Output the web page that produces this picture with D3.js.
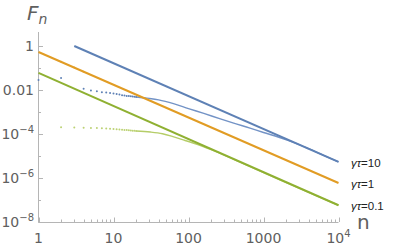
<!DOCTYPE html>
<html>
<head>
<meta charset="utf-8">
<script src="https://cdn.jsdelivr.net/npm/d3@7"></script>
<style>
  body { margin: 0; background: #fff; }
  svg { display: block; }
</style>
</head>
<body>
<div id="chart"></div>
<script>
// solid asymptotic lines: [n, F] end points
const blueLine = [[3, 1.05], [1e4, 5.5e-6]]
const orangeLine = [[1, 0.56], [1e4, 6.0e-7]]
const greenLine = [[1, 0.063], [1e4, 5.8e-8]]

// exact values, sparse integer n (drawn as dots)
const blueDots = [[1, 0.030], [2, 0.037], [4, 0.0117], [5, 0.0098], [6, 0.0091], [7, 0.0083],
    [8, 0.0079], [9, 0.0076], [10, 0.0071], [11, 0.0068], [12, 0.0065], [13, 0.0060],
    [14, 0.0059], [15, 0.0056], [16, 0.0055], [17, 0.0054], [18, 0.0052], [19, 0.0051], [20, 0.0050]]
const orangeDots = [[2, 0.20], [3, 0.11], [4, 0.071]]
const greenDots = [[2, 2.1e-4], [3, 2.04e-4], [4, 2.0e-4], [5, 1.95e-4], [6, 1.9e-4], [7, 1.86e-4],
    [8, 1.82e-4], [9, 1.78e-4], [10, 1.74e-4], [11, 1.70e-4], [12, 1.66e-4], [13, 1.62e-4],
    [14, 1.58e-4], [15, 1.55e-4], [16, 1.51e-4], [17, 1.48e-4], [18, 1.45e-4], [19, 1.43e-4], [20, 1.41e-4]]

// exact values, dense part (n > 20)
const blueCurve = [[20, 0.0050], [30, 0.0043], [40, 0.0037], [63, 0.0025], [100, 0.00148],
    [160, 8.9e-4], [266, 5.0e-4], [400, 3.2e-4], [661, 1.9e-4], [1000, 1.2e-4],
    [1600, 7.3e-5], [2500, 4.3e-5], [4000, 2.2e-5], [6300, 1.1e-5], [10000, 5.5e-6]]
const greenCurve = [[20, 1.41e-4], [31, 1.26e-4], [45, 1.05e-4], [62, 7.8e-5], [90, 5.2e-5],
    [130, 3.5e-5], [200, 2.0e-5], [400, 7.2e-6], [1000, 1.8e-6], [3000, 3.4e-7], [10000, 5.8e-8]]

const xTicks = [1, 10, 100, 1000, 1e4]
const xTickLabels = ["1", "10", "100", "1000", "10|4"]
const yTicks = [1, 1e-2, 1e-4, 1e-6, 1e-8]
const yTickLabels = ["1", "0.01", "10|-4", "10|-6", "10|-8"]
const legendLabels = ["γτ=10", "γτ=1", "γτ=0.1"]

const width = 415, height = 248
const colors = ["#5e81b5", "#e19c24", "#8fb032"]

const svg = d3.select("#chart").append("svg")
    .attr("width", width)
    .attr("height", height)

const x = d3.scaleLog().domain([1, 1e4]).range([38.5, 338.5])
const y = d3.scaleLog().domain([1e-8, Math.pow(10, 0.66)]).range([222, 32])

const axisColor = "#b5b5b5"
const labelColor = "#606060"

// axes lines
svg.append("line")
    .attr("x1", x(1)).attr("x2", x(1e4))
    .attr("y1", 222.5).attr("y2", 222.5)
    .attr("stroke", axisColor)
svg.append("line")
    .attr("x1", 38.5).attr("x2", 38.5)
    .attr("y1", 32).attr("y2", 222.5)
    .attr("stroke", axisColor)

// x ticks, major and minor, pointing inward
let xMinor = []
for (let d = 1; d < 1e4; d *= 10) {
    for (let k = 2; k <= 9; k++) xMinor.push(d * k)
}
svg.selectAll(".xminor").data(xMinor).enter().append("line")
    .attr("x1", d => Math.round(x(d)) + 0.5).attr("x2", d => Math.round(x(d)) + 0.5)
    .attr("y1", 222).attr("y2", 219.5)
    .attr("stroke", axisColor)
svg.selectAll(".xmajor").data(xTicks).enter().append("line")
    .attr("x1", d => Math.round(x(d)) + 0.5).attr("x2", d => Math.round(x(d)) + 0.5)
    .attr("y1", 222).attr("y2", 217.5)
    .attr("stroke", axisColor)

// y ticks
const yMinor = [1e-1, 1e-3, 1e-5, 1e-7]
svg.selectAll(".yminor").data(yMinor).enter().append("line")
    .attr("x1", 38.5).attr("x2", 41)
    .attr("y1", d => Math.round(y(d)) + 0.5).attr("y2", d => Math.round(y(d)) + 0.5)
    .attr("stroke", axisColor)
svg.selectAll(".ymajor").data(yTicks).enter().append("line")
    .attr("x1", 38.5).attr("x2", 43)
    .attr("y1", d => Math.round(y(d)) + 0.5).attr("y2", d => Math.round(y(d)) + 0.5)
    .attr("stroke", axisColor)

// tick label with optional superscript, "base|exp"
function tickText(sel, s) {
    const parts = s.split("|")
    sel.append("tspan").text(parts[0])
    if (parts.length > 1) {
        sel.append("tspan")
            .attr("dy", -6)
            .attr("font-size", 10)
            .text(parts[1].replace("-", "\u2212"))
    }
}

xTicks.forEach((t, i) => {
    const txt = svg.append("text")
        .attr("x", x(t))
        .attr("y", 243)
        .attr("text-anchor", "middle")
        .attr("font-family", "DejaVu Sans")
        .attr("font-size", 14)
        .attr("fill", labelColor)
    tickText(txt, xTickLabels[i])
})

yTicks.forEach((t, i) => {
    const txt = svg.append("text")
        .attr("x", 34)
        .attr("y", y(t) + 5)
        .attr("text-anchor", "end")
        .attr("font-family", "DejaVu Sans")
        .attr("font-size", 14)
        .attr("fill", labelColor)
    tickText(txt, yTickLabels[i])
})

// axis titles
const fTitle = svg.append("text")
    .attr("x", 27)
    .attr("y", 20)
    .attr("font-family", "DejaVu Sans")
    .attr("font-style", "oblique")
    .attr("font-size", 20)
    .attr("fill", labelColor)
fTitle.append("tspan").text("F")
fTitle.append("tspan").attr("dy", 4).attr("font-size", 14).text("n")

svg.append("text")
    .attr("x", 357)
    .attr("y", 229)
    .attr("font-family", "DejaVu Sans")
    .attr("font-size", 20)
    .attr("fill", labelColor)
    .text("n")

const line = d3.line()
    .x(d => x(d[0]))
    .y(d => y(d[1]))
    .curve(d3.curveMonotoneX)

// dense exact curves (thin, light)
svg.append("path").datum(blueCurve)
    .attr("d", line).attr("fill", "none")
    .attr("stroke", "#7393c6").attr("stroke-width", 1.4)
svg.append("path").datum(greenCurve)
    .attr("d", line).attr("fill", "none")
    .attr("stroke", "#b5cd68").attr("stroke-width", 1.4)

// sparse exact dots
svg.selectAll(".bdot").data(blueDots).enter().append("circle")
    .attr("cx", d => x(d[0])).attr("cy", d => y(d[1]))
    .attr("r", 1).attr("fill", "#5e81b5")
svg.selectAll(".odot").data(orangeDots).enter().append("circle")
    .attr("cx", d => x(d[0])).attr("cy", d => y(d[1]))
    .attr("r", 1).attr("fill", "#f0c27a")
svg.selectAll(".gdot").data(greenDots).enter().append("circle")
    .attr("cx", d => x(d[0])).attr("cy", d => y(d[1]))
    .attr("r", 1).attr("fill", "#bcd274")

// asymptotic lines
const solid = [blueLine, orangeLine, greenLine]
solid.forEach((s, i) => {
    svg.append("path").datum(s)
        .attr("d", line).attr("fill", "none")
        .attr("stroke", colors[i]).attr("stroke-width", 2)
})

// legend labels next to line ends
solid.forEach((s, i) => {
    const end = s[s.length - 1]
    const t = svg.append("text")
        .attr("x", 351)
        .attr("y", y(end[1]) + 5)
        .attr("font-family", "Liberation Sans")
        .attr("font-size", 11.5)
        .attr("fill", "#222")
    t.append("tspan").attr("font-style", "italic").text(legendLabels[i].slice(0, 2))
    t.append("tspan").text(legendLabels[i].slice(2))
})
</script>
</body>
</html>
